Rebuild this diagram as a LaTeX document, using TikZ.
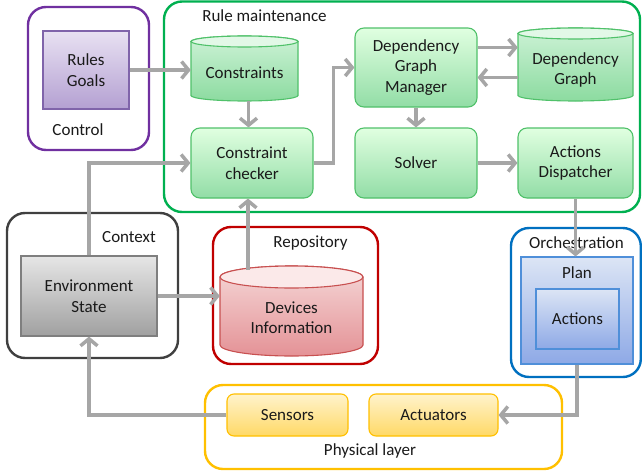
\documentclass[tikz,border=0pt]{standalone}
\usepackage{fontspec}
\setmainfont{Carlito}
\usetikzlibrary{arrows.meta,calc}
\definecolor{txt}{HTML}{1A1A1A}
\definecolor{arrowgray}{HTML}{A6A6A6}
\newcommand\mycyl[6]{%
 \pgfmathsetmacro\mycx{(#1+#3)/2}\pgfmathsetmacro\myrx{(#3-#1)/2}%
 \pgfmathsetmacro\myya{#2+#5}\pgfmathsetmacro\myyb{#4-#5}%
 \path[#6 body] (#1,\myya) -- (#1,\myyb) arc[start angle=180,end angle=360,x radius=\myrx pt,y radius=#5pt] -- (#3,\myya) arc[start angle=0,end angle=180,x radius=\myrx pt,y radius=#5pt] -- cycle;
 \path[#6 end] (\mycx,\myya) ellipse[x radius=\myrx pt,y radius=#5pt];}
\tikzset{
 lbl/.style={text=txt,inner sep=0pt,align=center,font=\fontsize{17}{20.5}\selectfont},
 container/.style={rounded corners=18pt,line width=2.4pt},
 greenbox/.style={lbl,draw=green!60!black!50!green,line width=1.1pt,rounded corners=9pt,top color=green!12!white,bottom color={rgb,255:red,146;green,221;blue,166},draw={rgb,255:red,80;green,193;blue,106}},
 ybox/.style={lbl,line width=1.1pt,rounded corners=7pt,top color={rgb,255:red,255;green,243;blue,204},bottom color={rgb,255:red,255;green,217;blue,102},draw={rgb,255:red,255;green,192;blue,0}},
 bluebox/.style={lbl,line width=1.1pt,top color={rgb,255:red,220;green,229;blue,245},bottom color={rgb,255:red,142;green,169;blue,230},draw={rgb,255:red,79;green,143;blue,217}},
 shapenode/.style={inner sep=0pt,draw=none},
 gcyl body/.style={top color={rgb,255:red,205;green,242;blue,214},bottom color={rgb,255:red,140;green,219;blue,160},draw={rgb,255:red,80;green,193;blue,106},line width=1.1pt},
 gcyl end/.style={fill={rgb,255:red,226;green,248;blue,231},draw={rgb,255:red,80;green,193;blue,106},line width=1.1pt},
 rcyl body/.style={top color={rgb,255:red,245;green,215;blue,215},bottom color={rgb,255:red,228;green,146;blue,150},draw={rgb,255:red,200;green,80;blue,80},line width=1.1pt},
 rcyl end/.style={fill={rgb,255:red,251;green,233;blue,233},draw={rgb,255:red,200;green,80;blue,80},line width=1.1pt},
 arr/.style={draw=arrowgray,line width=3.5pt,-{Straight Barb[length=7pt,width=17pt]}},
 line/.style={draw=arrowgray,line width=3.5pt}
}
\begin{document}
\begin{tikzpicture}[x=1pt,y=-1pt]
\path[use as bounding box,fill=white] (0,0) rectangle (642,471);
% containers
\draw[container,draw={rgb,255:red,112;green,48;blue,160}] (28,7) rectangle (149,150);
\draw[container,draw={rgb,255:red,0;green,176;blue,80}] (164,1.5) rectangle (640,212);
\draw[container,draw={rgb,255:red,64;green,64;blue,64}] (7,213) rectangle (178,358);
\draw[container,draw={rgb,255:red,192;green,0;blue,0}] (213,227) rectangle (378,364);
\draw[container,draw={rgb,255:red,0;green,112;blue,192}] (511,228) rectangle (640.8,377);
\draw[container,draw={rgb,255:red,255;green,192;blue,0}] (205,385) rectangle (562,469);
% container labels
\node[lbl] (lcontrol) at (78,130) {Control};
\node[lbl] (lrule) at (264.5,16) {Rule maintenance};
\node[lbl] (lcontext) at (129,237) {Context};
\node[lbl] (lrepo) at (310.5,243) {Repository};
\node[lbl] (lorch) at (576.5,243) {Orchestration};
\node[lbl] (lphys) at (370,451) {Physical layer};
% control
\node[lbl,minimum width=86pt,minimum height=78pt,line width=1.1pt,top color={rgb,255:red,232;green,225;blue,242},bottom color={rgb,255:red,180;green,160;blue,210},draw={rgb,255:red,128;green,100;blue,170}] (rg) at (86,70) {Rules\\Goals};
% rule maintenance
\mycyl{191}{36}{298}{101}{5.5}{gcyl}
\node[shapenode,minimum width=107pt,minimum height=65pt] (con) at (244.5,68.5) {};
\node[lbl] (con-t) at (244.5,73) {Constraints};
\node[greenbox,minimum width=122pt,minimum height=70pt] (cc) at (252,163) {Constraint\\checker};
\node[greenbox,minimum width=122pt,minimum height=79pt] (dgm) at (416,67.5) {Dependency\\Graph\\Manager};
\mycyl{518}{28}{633}{101}{5.5}{gcyl}
\node[shapenode,minimum width=115pt,minimum height=73pt] (dg) at (575.5,64.5) {};
\node[lbl] (dg-t) at (575.5,70) {Dependency\\Graph};
\node[greenbox,minimum width=122pt,minimum height=70pt] (sol) at (416,163) {Solver};
\node[greenbox,minimum width=115pt,minimum height=70pt] (ad) at (575.5,163) {Actions\\Dispatcher};
% context
\node[lbl,minimum width=136pt,minimum height=80pt,line width=1.1pt,top color={rgb,255:red,230;green,230;blue,230},bottom color={rgb,255:red,160;green,160;blue,160},draw={rgb,255:red,127;green,127;blue,127}] (env) at (89,296) {Environment\\State};
% repository
\mycyl{220}{266}{363}{356}{11}{rcyl}
\node[shapenode,minimum width=143pt,minimum height=90pt] (dev) at (291.5,311) {};
\node[lbl] (dev-t) at (291.5,317.5) {Devices\\Information};
% orchestration
\node[bluebox,minimum width=112pt,minimum height=107pt] (plan) at (577,310.5) {};
\node[lbl] (plan-t) at (577,273) {Plan};
\node[bluebox,minimum width=83pt,minimum height=60pt] (acts) at (577.5,319) {Actions};
% physical
\node[ybox,minimum width=121pt,minimum height=42pt] (sens) at (287.5,415) {Sensors};
\node[ybox,minimum width=129pt,minimum height=42pt] (actu) at (433.5,415) {Actuators};
% connectors
\draw[arr] (rg.east) -- (rg.east -| con.west);
\draw[arr] ([xshift=4pt]con.south) -- ([xshift=4pt]con.south |- cc.north);
\draw[arr] (env.north) |- (cc.west);
\draw[arr] (cc.east) -| ([xshift=-21pt]dgm.west) -- (dgm.west);
\draw[arr] ([yshift=20pt]dgm.east) -- ([yshift=20pt]dgm.east -| dg.west);
\draw[arr] ([yshift=-13pt]dg.west) -- ([yshift=-13pt]dg.west -| dgm.east);
\draw[arr] (dgm.south) -- (dgm.south |- sol.north);
\draw[arr] (sol.east) -- (ad.west);
\draw[arr] (ad.south) -- (ad.south |- plan.north);
\coordinate (ccin) at ([xshift=-4pt]cc.south);
\draw[arr] ([yshift=-4pt]ccin |- dev.north) -- (ccin);
\draw[arr] (env.east) -- (env.east -| dev.west);
\draw[arr] (plan.south) |- (actu.east);
\draw[arr] (sens.west) -| (env.south);
\end{tikzpicture}
\end{document}
